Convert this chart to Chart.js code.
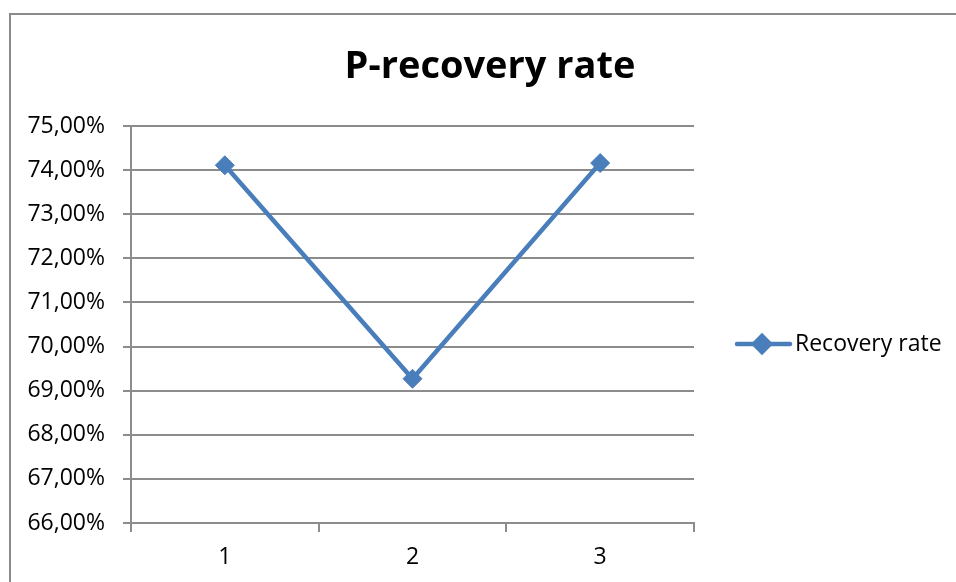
<!DOCTYPE html>
<html>
<head>
<meta charset="utf-8">
<title>P-recovery rate</title>
<script src="https://cdn.jsdelivr.net/npm/chart.js@4/dist/chart.umd.min.js"></script>
<style>
  html, body { margin: 0; padding: 0; background: #ffffff; }
  #wrap { position: relative; width: 956px; height: 582px; overflow: hidden; }
</style>
</head>
<body>
<div id="wrap"><canvas id="chart" width="956" height="582"></canvas></div>
<script>
// Chart data
const categories = ['1', '2', '3'];
const recoveryRate = [0.7411, 0.6927, 0.7416];
const seriesName = 'Recovery rate';
const chartTitle = 'P-recovery rate';
const yMin = 0.66, yMax = 0.75, yStep = 0.01;

const FONT = '"Open Sans", Lato, sans-serif';
const LINE_BLUE = '#4a7ebb';
const GRID_GREY = '#8c8c8c';

function pct(v) {
  return (v * 100).toFixed(2).replace('.', ',') + '%';
}

// Frame, title and legend drawn around the plot
const decorations = {
  id: 'decorations',
  beforeDraw(chart) {
    const ctx = chart.ctx;
    ctx.save();
    ctx.fillStyle = '#ffffff';
    ctx.fillRect(0, 0, chart.width, chart.height);
    ctx.strokeStyle = '#8a8a8a';
    ctx.lineWidth = 2;
    ctx.strokeRect(10, 14, chart.width + 20, chart.height + 20);
    ctx.restore();
  },
  afterDraw(chart) {
    const ctx = chart.ctx;
    const ds = chart.data.datasets[0];
    ctx.save();
    // title
    ctx.fillStyle = '#000000';
    ctx.font = 'bold 38px ' + FONT;
    ctx.textAlign = 'center';
    ctx.textBaseline = 'alphabetic';
    ctx.fillText(chartTitle, 490, 78);
    // legend entry: line with diamond marker
    const ly = 344;
    ctx.strokeStyle = ds.borderColor;
    ctx.lineWidth = 4.5;
    ctx.lineCap = 'round';
    ctx.beginPath();
    ctx.moveTo(737, ly);
    ctx.lineTo(790, ly);
    ctx.stroke();
    Chart.helpers.drawPoint(ctx, {
      pointStyle: 'rectRot', radius: 8, borderWidth: 1
    }, 762, ly);
    ctx.fillStyle = ds.pointBackgroundColor;
    ctx.fill();
    ctx.fillStyle = '#000000';
    ctx.font = '23px ' + FONT;
    ctx.textAlign = 'left';
    ctx.textBaseline = 'middle';
    ctx.fillText(ds.label, 795, ly);
    ctx.restore();
  }
};

new Chart(document.getElementById('chart'), {
  type: 'line',
  data: {
    labels: categories,
    datasets: [{
      label: seriesName,
      data: recoveryRate,
      borderColor: LINE_BLUE,
      backgroundColor: LINE_BLUE,
      pointBackgroundColor: LINE_BLUE,
      pointBorderColor: LINE_BLUE,
      borderWidth: 4.5,
      pointStyle: 'rectRot',
      pointRadius: 9.5,
      pointBorderWidth: 1,
      tension: 0,
      fill: false
    }]
  },
  options: {
    responsive: false,
    animation: false,
    devicePixelRatio: 1,
    layout: { padding: { top: 126, right: 262, bottom: 0, left: 0 } },
    plugins: {
      legend: { display: false },
      title: { display: false },
      tooltip: { enabled: false }
    },
    scales: {
      x: {
        type: 'category',
        offset: true,
        grid: {
          offset: true,
          drawOnChartArea: false,
          drawTicks: true,
          tickLength: 9,
          color: GRID_GREY,
          lineWidth: 2
        },
        border: { display: true, color: GRID_GREY, width: 2 },
        ticks: {
          color: '#000000',
          font: { family: FONT, size: 23 },
          padding: 12
        },
        afterFit(scale) { scale.height = 59; }
      },
      y: {
        min: yMin,
        max: yMax,
        grid: {
          color: GRID_GREY,
          lineWidth: 2,
          drawTicks: true,
          tickLength: 8
        },
        border: { display: true, color: GRID_GREY, width: 2 },
        ticks: {
          stepSize: yStep,
          color: '#000000',
          font: { family: FONT, size: 23 },
          padding: 18,
          callback: (v) => pct(v)
        },
        afterFit(scale) { scale.width = 131; }
      }
    }
  },
  plugins: [decorations]
});
</script>
</body>
</html>
